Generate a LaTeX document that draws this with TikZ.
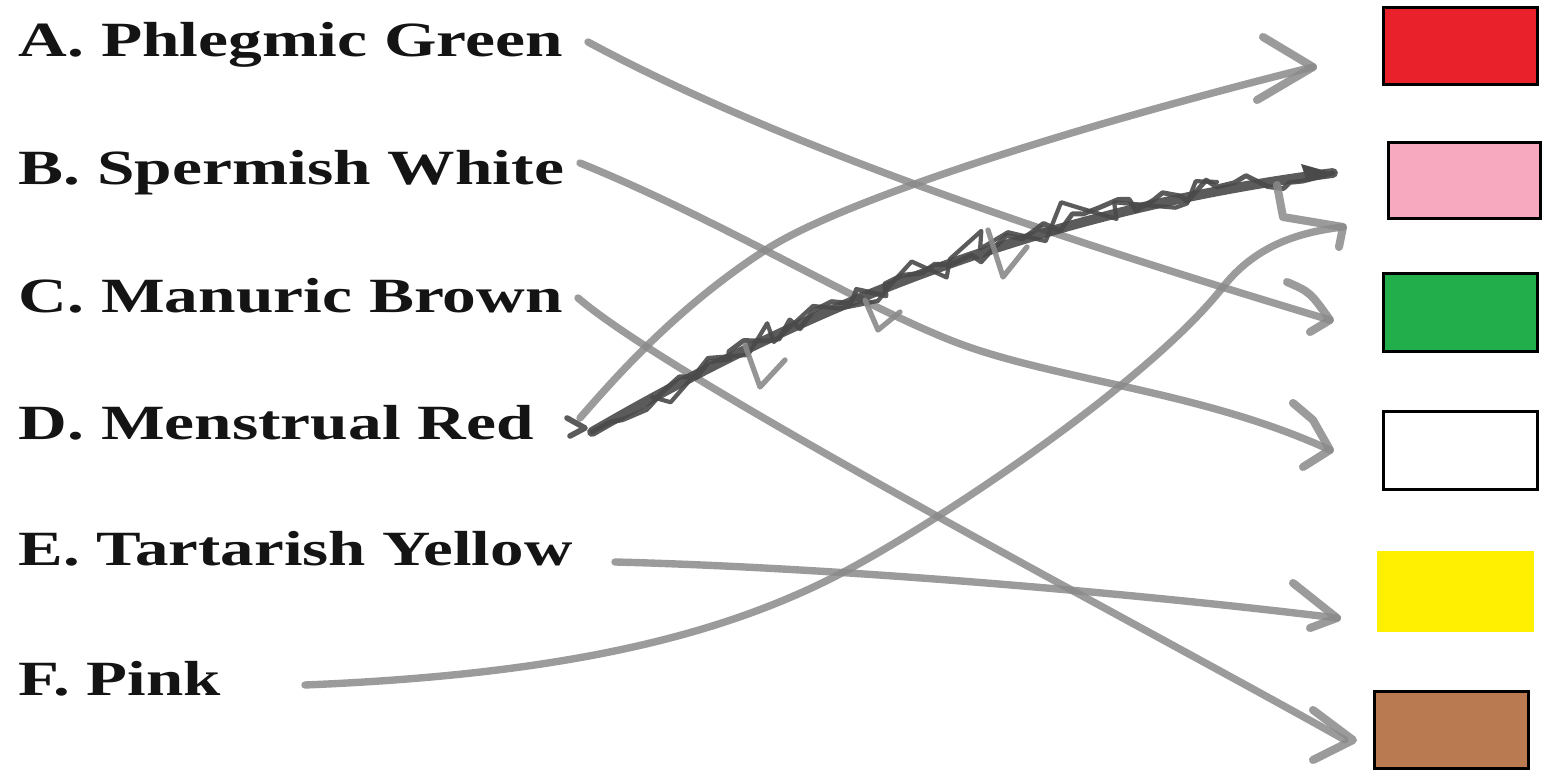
\documentclass[tikz,border=0pt]{standalone}
\usepackage{fontspec}
\setmainfont{Liberation Serif}
\usetikzlibrary{decorations.pathmorphing}
\definecolor{penline}{HTML}{8A8A8A}
\definecolor{scribble}{HTML}{4A4A4A}
\definecolor{swred}{HTML}{E8212B}
\definecolor{swpink}{HTML}{F6A9BF}
\definecolor{swgreen}{HTML}{21AE4B}
\definecolor{swyellow}{HTML}{FFEF00}
\definecolor{swbrown}{HTML}{B97A52}
\begin{document}
\begin{tikzpicture}[x=0.01cm,y=-0.01cm,
  lbl/.style={anchor=base west, inner sep=0pt, font=\fontsize{14pt}{16pt}\selectfont\bfseries, text=black!92},
  swatch/.style={draw=black, line width=0.9pt, inner sep=0pt, anchor=north west},
  pen/.style={draw=penline, line width=2.1pt, line cap=round, line join=round, opacity=0.85},
  penhead/.style={pen, line width=2.3pt},
  scrib/.style={draw=scribble, line width=1.8pt, line cap=round, line join=round, opacity=0.9}]
\useasboundingbox[fill=white] (0,0) rectangle (1550,779);

% labels
\node[lbl] (A) at (18,57)  {\scalebox{1.37}[1]{A. Phlegmic Green}};
\node[lbl] (B) at (18,185) {\scalebox{1.37}[1]{B. Spermish White}};
\node[lbl] (C) at (18,313) {\scalebox{1.37}[1]{C. Manuric Brown}};
\node[lbl] (D) at (18,440) {\scalebox{1.37}[1]{D. Menstrual Red}};
\node[lbl] (E) at (18,566) {\scalebox{1.36}[1]{E. Tartarish Yellow}};
\node[lbl] (F) at (18,696) {\scalebox{1.36}[1]{F. Pink}};

% colour swatches
\node[swatch, fill=swred,   minimum width=1.54cm, minimum height=0.77cm] (red)    at (1382,6)   {};
\node[swatch, fill=swpink,  minimum width=1.52cm, minimum height=0.76cm] (pink)   at (1387,141) {};
\node[swatch, fill=swgreen, minimum width=1.54cm, minimum height=0.78cm] (green)  at (1382,272) {};
\node[swatch, fill=white,   minimum width=1.54cm, minimum height=0.78cm] (white)  at (1382,410) {};
\node[swatch, draw=none, fill=swyellow, minimum width=1.57cm, minimum height=0.81cm] (yellow) at (1375,549) {};
\node[swatch, fill=swbrown, minimum width=1.54cm, minimum height=0.77cm] (brown)  at (1373,690) {};

% connector end points
\coordinate (As) at (588,42);
\coordinate (Bs) at (580,163);
\coordinate (Cs) at (578,298);
\coordinate (Ds) at (580,418);
\coordinate (Dx) at (592,432);
\coordinate (Es) at (615,562);
\coordinate (Fs) at (305,685);
\coordinate (tRed)    at ([shift={(-69,61)}]red.north west);
\coordinate (tScrib)  at ([shift={(-54,32)}]pink.north west);
\coordinate (tPink)   at ([shift={(-44,86)}]pink.north west);
\coordinate (tGreen)  at ([shift={(-52,48)}]green.north west);
\coordinate (tWhite)  at ([shift={(-52,40)}]white.north west);
\coordinate (tYellow) at ([shift={(-38,69)}]yellow.north west);
\coordinate (tBrown)  at ([shift={(-28,50)}]brown.north west);

% A -> green
\draw[pen] (As) .. controls (788,150) and (1080,245) .. (tGreen);
\draw[penhead] ([shift={(-43,-38)}]tGreen) .. controls ([shift={(-20,-28)}]tGreen) .. (tGreen) -- ([shift={(-20,12)}]tGreen);
% B -> white
\draw[pen] (Bs) .. controls (720,220) and (850,300) .. (950,340) .. controls (1050,380) and (1200,390) .. (tWhite);
\draw[penhead] ([shift={(-37,-47)}]tWhite) -- ([shift={(-17,-30)}]tWhite) -- (tWhite) -- ([shift={(-27,17)}]tWhite);
% C -> brown
\draw[pen] (Cs) .. controls (680,385) and (1150,630) .. (tBrown);
\draw[penhead] ([shift={(-32,-30)}]tBrown) -- ([shift={(8,0)}]tBrown) -- ([shift={(-32,20)}]tBrown);
% D -> red
\draw[pen] (Ds) .. controls (620,372) and (680,305) .. (767,249) .. controls (850,196) and (1100,120) .. (tRed);
\draw[penhead] ([shift={(-50,-30)}]tRed) -- (tRed) -- ([shift={(-56,33)}]tRed);
% D -> pink, scribbled over
\pgfmathsetseed{11}
\draw[scrib, line width=2.8pt] (Dx) .. controls (760,335) and (1000,215) .. (tScrib);
\draw[scrib, line width=1.4pt, decorate, decoration={random steps, segment length=4pt, amplitude=3pt}] (Dx) -- (697,377) -- (813,311) -- (950,265) -- (1083,214) -- (1217,187) -- (tScrib);
\draw[scrib, line width=1.2pt, decorate, decoration={random steps, segment length=7pt, amplitude=5pt}] (652,397) -- (697,372) -- (813,306) -- (950,259) -- (1083,209) -- (1217,182);
\draw[scrib, line width=1.5pt, draw=penline] (745,345) -- (760,387) -- (785,360);
\draw[scrib, line width=1.5pt, draw=penline] (988,230) -- (1003,277) -- (1027,247);
\draw[scrib, line width=1.5pt, draw=penline] (865,300) -- (878,330) -- (900,312);
\fill[scribble] (tScrib) -- ([shift={(-32,-9)}]tScrib) -- ([shift={(-26,9)}]tScrib) -- cycle;
\draw[scrib, line width=1.6pt] (567,418) -- (585,428) -- (570,436);
% E -> yellow
\draw[pen] (Es) .. controls (850,568) and (1150,595) .. (tYellow);
\draw[penhead] ([shift={(-44,-35)}]tYellow) -- (tYellow) -- ([shift={(-27,10)}]tYellow);
% F -> pink
\draw[pen] (Fs) .. controls (550,675) and (720,640) .. (853,567) .. controls (950,514) and (1150,380) .. (1223,287) .. controls (1256,245) and (1300,232) .. (tPink);
\draw[penhead] ([shift={(-66,-42)}]tPink) -- ([shift={(-60,-10)}]tPink) -- (tPink) -- ([shift={(-4,20)}]tPink);
\end{tikzpicture}
\end{document}
